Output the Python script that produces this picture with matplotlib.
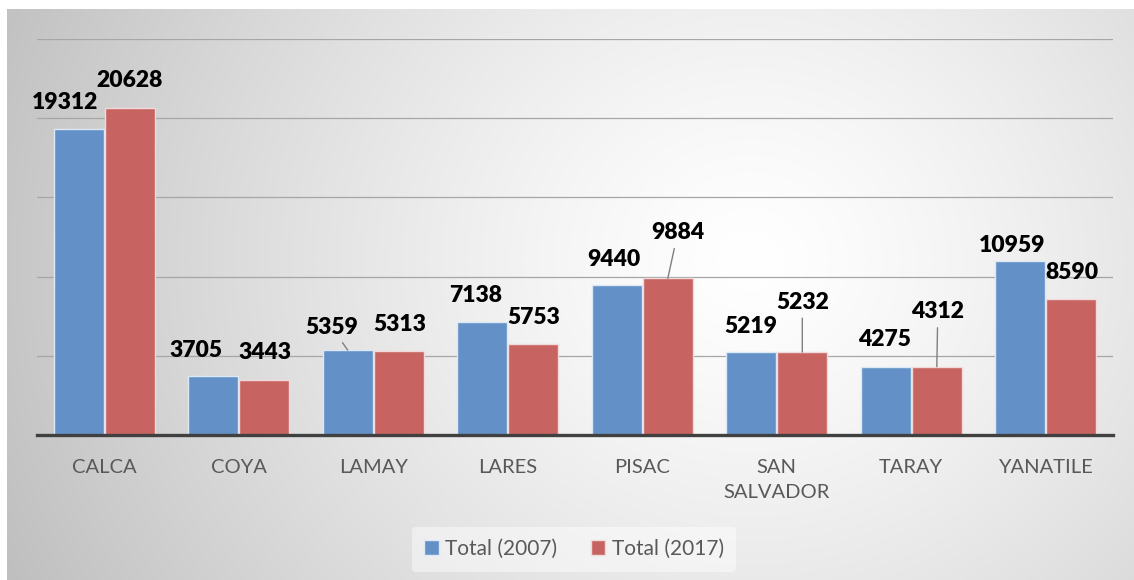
import numpy as np
import matplotlib.pyplot as plt

# datos
distritos = ["CALCA", "COYA", "LAMAY", "LARES", "PISAC", "SAN\nSALVADOR", "TARAY", "YANATILE"]
total_2007 = [19312, 3705, 5359, 7138, 9440, 5219, 4275, 10959]
total_2017 = [20628, 3443, 5313, 5753, 9884, 5232, 4312, 8590]

# desplazamiento de etiquetas (pixeles)
off_2007 = [(-14, 27), (-17, 26), (-16, 23), (-7, 26), (-3, 26), (0, 26), (-1, 28), (-8, 16)]
off_2017 = [(0, 28), (1, 28), (1, 26), (0, 26), (10, 46), (0, 50), (1, 55), (1, 26)]
leader_2007 = [False, False, True, False, False, False, False, False]
leader_2017 = [False, False, False, False, True, True, True, False]

W, H = 1134, 580
fig = plt.figure(figsize=(W / 100, H / 100), dpi=100)

# fondo con degradado radial
bg = fig.add_axes([0, 0, 1, 1])
yy, xx = np.mgrid[0:H, 0:W]
r = np.sqrt((xx - 750) ** 2 + ((yy - 260) * 1.1) ** 2)
val = 255 - 62 * (r / 800) ** 1.3
val = np.clip(val, 0, 255) / 255
img = np.dstack([val, val, val])
img[:9, :] = 1
img[:, :7] = 1
bg.imshow(img, aspect='auto', extent=[0, W, H, 0])
bg.axis('off')

ax = fig.add_axes([37 / W, (H - 435) / H, (1113 - 37) / W, (435 - 39) / H])
ax.patch.set_alpha(0)

x = np.arange(len(distritos))
w = 0.37
blue = '#6391C7'
red = '#C76462'
b1 = ax.bar(x - 0.19, total_2007, w, color=blue, edgecolor='#dde8f5', linewidth=1, label='Total (2007)', zorder=3)
b2 = ax.bar(x + 0.19, total_2017, w, color=red, edgecolor='#f2dada', linewidth=1, label='Total (2017)', zorder=3)

ax.set_ylim(0, 25000)
ax.set_xlim(-0.5, len(distritos) - 0.5)
ax.set_yticks(np.arange(0, 25001, 5000))
ax.yaxis.grid(True, color='#a6a6a6', linewidth=0.9, zorder=0)
ax.set_axisbelow(True)
ax.tick_params(axis='y', left=False, labelleft=False)
ax.set_xticks(x)
ax.set_xticklabels(distritos, fontfamily='Lato', fontsize=14.5, color='#595959', linespacing=1.6)
ax.tick_params(axis='x', length=0, pad=17)
for s in ['left', 'right', 'top']:
    ax.spines[s].set_visible(False)
ax.spines['bottom'].set_color('#404040')
ax.spines['bottom'].set_linewidth(2.4)
ax.spines['bottom'].set_zorder(4)


def etiquetas(bars, vals, offs, leaders):
    for b, v, o, ld in zip(bars, vals, offs, leaders):
        xc = b.get_x() + b.get_width() / 2
        kw = {}
        if ld:
            kw['arrowprops'] = dict(arrowstyle='-', color='#7f7f7f', lw=1, shrinkA=2, shrinkB=0)
        ax.annotate(str(v), (xc, v), xytext=o, textcoords='offset pixels',
                    ha='center', va='center', fontfamily='Lato', fontweight='heavy',
                    fontsize=16.5, color='black', zorder=5, **kw)


etiquetas(b1, total_2007, off_2007, leader_2007)
etiquetas(b2, total_2017, off_2017, leader_2017)

leg = fig.legend(loc='center', bbox_to_anchor=(574 / W, 1 - 549 / H), ncol=2,
                 frameon=True, prop={'family': 'Lato', 'size': 15},
                 handlelength=0.7, handleheight=0.7, handletextpad=0.3,
                 columnspacing=1.6, borderpad=0.6)
leg.get_frame().set_facecolor('white')
leg.get_frame().set_alpha(0.45)
leg.get_frame().set_edgecolor('none')
for t in leg.get_texts():
    t.set_color('#595959')

fig.savefig('out.png', dpi=100)
